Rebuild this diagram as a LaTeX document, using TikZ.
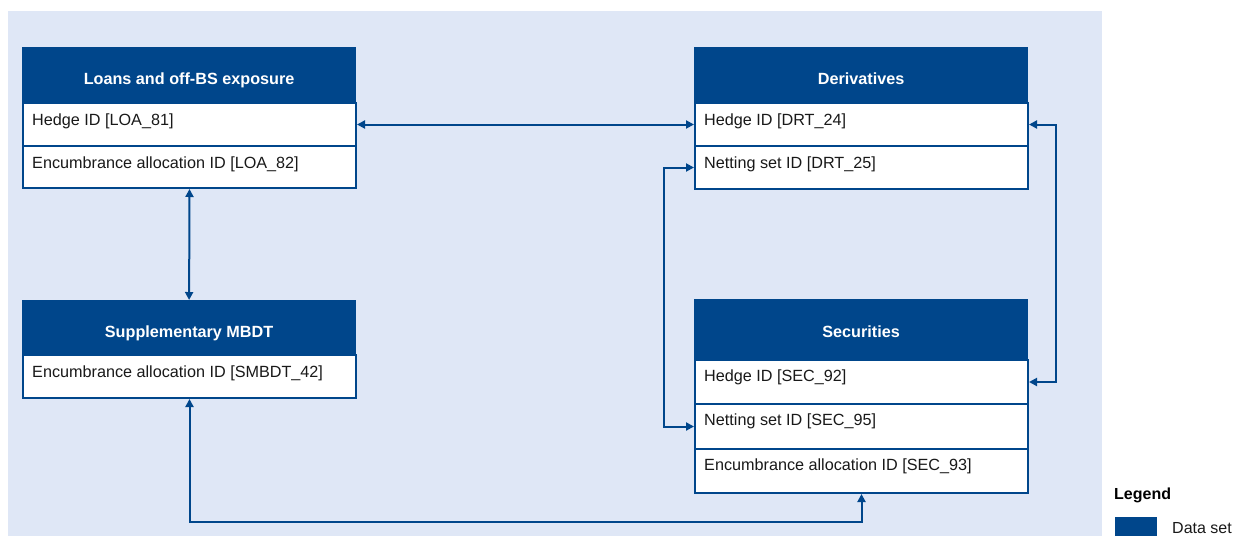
\documentclass[tikz,border=0pt]{standalone}
\usepackage{fontspec}
\setmainfont{Liberation Sans}
\usetikzlibrary{arrows.meta}
\definecolor{dkblue}{RGB}{0,70,139}
\definecolor{bgblue}{RGB}{223,231,246}
\tikzset{
  hdr/.style={draw=dkblue, fill=dkblue, line width=1.2pt, minimum width=333pt, anchor=north west, inner sep=0pt},
  rowbox/.style={draw=dkblue, fill=white, line width=2pt, minimum width=333pt, anchor=north west, inner sep=0pt},
  hdrtxt/.style={text=white, font=\bfseries\fontsize{16.2}{19}\selectfont, anchor=base, inner sep=0pt},
  rowtxt/.style={text=black!90, font=\fontsize{16.2}{19}\selectfont, anchor=base west, inner sep=0pt},
  arr/.style={draw=dkblue, line width=2pt, {Triangle[length=8pt,width=8pt]}-{Triangle[length=8pt,width=8pt]}}
}
\begin{document}
\begin{tikzpicture}[x=1pt,y=-1pt]
\useasboundingbox (0,0) rectangle (1236,536);
\fill[white] (0,0) rectangle (1236,536);
\fill[bgblue] (8,11) rectangle (1102,536);

% Loans
\node[hdr, minimum height=55pt] (loa) at (22,47) {};
\node[rowbox, minimum height=43pt] (loa1) at (22,102) {};
\node[rowbox, minimum height=42pt] (loa2) at (22,145) {};
\node[hdrtxt] (loat) at ([yshift=-9.5pt]loa.center) {Loans and off-BS exposure};
\node[rowtxt] (loa1t) at ([xshift=10pt,yshift=-23pt]loa1.north west) {Hedge ID [LOA\_81]};
\node[rowtxt] (loa2t) at ([xshift=10pt,yshift=-23pt]loa2.north west) {Encumbrance allocation ID [LOA\_82]};

% Derivatives
\node[hdr, minimum height=55pt] (drt) at (694,47) {};
\node[rowbox, minimum height=43pt] (drt1) at (694,102) {};
\node[rowbox, minimum height=43pt] (drt2) at (694,145) {};
\node[hdrtxt] (drtt) at ([yshift=-9.5pt]drt.center) {Derivatives};
\node[rowtxt] (drt1t) at ([xshift=10pt,yshift=-23pt]drt1.north west) {Hedge ID [DRT\_24]};
\node[rowtxt] (drt2t) at ([xshift=10pt,yshift=-23pt]drt2.north west) {Netting set ID [DRT\_25]};

% Supplementary
\node[hdr, minimum height=54pt] (smb) at (22,300) {};
\node[rowbox, minimum height=43pt] (smb1) at (22,354) {};
\node[hdrtxt] (smbt) at ([yshift=-9.5pt]smb.center) {Supplementary MBDT};
\node[rowtxt] (smb1t) at ([xshift=10pt,yshift=-23pt]smb1.north west) {Encumbrance allocation ID [SMBDT\_42]};

% Securities
\node[hdr, minimum height=60pt] (sec) at (694,299) {};
\node[rowbox, minimum height=44pt] (sec1) at (694,359) {};
\node[rowbox, minimum height=45pt] (sec2) at (694,403) {};
\node[rowbox, minimum height=44pt] (sec3) at (694,448) {};
\node[hdrtxt] (sect) at ([yshift=-8pt]sec.center) {Securities};
\node[rowtxt] (sec1t) at ([xshift=10pt,yshift=-22pt]sec1.north west) {Hedge ID [SEC\_92]};
\node[rowtxt] (sec2t) at ([xshift=10pt,yshift=-22pt]sec2.north west) {Netting set ID [SEC\_95]};
\node[rowtxt] (sec3t) at ([xshift=10pt,yshift=-22pt]sec3.north west) {Encumbrance allocation ID [SEC\_93]};

% connectors
\coordinate (bot) at (500,522);
\coordinate (lft) at (664,300);
\coordinate (rgt) at (1056,250);
\draw[arr] (loa1.east) -- (drt1.west);
\draw[arr] (loa2.south) -- (smb.north);
\draw[arr] (smb1.south) |- (bot) -| (sec3.south);
\draw[arr] (drt2.west) -| (lft) |- (sec2.west);
\draw[arr] (drt1.east) -| (rgt) |- (sec1.east);

% legend
\node[font=\bfseries\fontsize{16}{19}\selectfont, anchor=base west, inner sep=0pt] (legt) at (1114,499) {Legend};
\node[fill=dkblue, minimum width=42pt, minimum height=19pt, anchor=north west, inner sep=0pt] (legbox) at (1115,517) {};
\node[font=\fontsize{16}{19}\selectfont, anchor=base west, inner sep=0pt, text=black!90] (legl) at (1172,533) {Data set};
\end{tikzpicture}
\end{document}
